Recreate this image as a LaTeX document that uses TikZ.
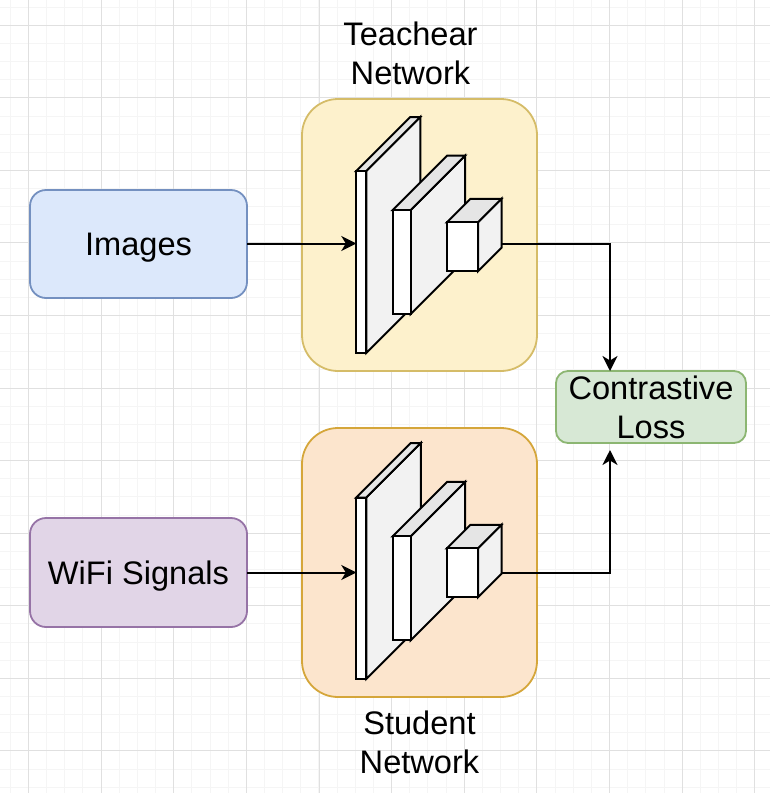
\documentclass[tikz,border=0pt]{standalone}
\usepackage{fontspec}
\setmainfont{Liberation Sans}
\usetikzlibrary{arrows.meta}
\definecolor{bluefill}{HTML}{DCE8FB}\definecolor{bluedraw}{HTML}{7490C0}
\definecolor{yelfill}{HTML}{FDF1CC}\definecolor{yeldraw}{HTML}{D5BC68}
\definecolor{orafill}{HTML}{FCE5CD}\definecolor{oradraw}{HTML}{D5A63A}
\definecolor{purfill}{HTML}{E1D5E7}\definecolor{purdraw}{HTML}{9673A6}
\definecolor{grnfill}{HTML}{D7E8D5}\definecolor{grndraw}{HTML}{8CB672}
\definecolor{gridmajor}{HTML}{E0E0E0}\definecolor{gridminor}{HTML}{F5F5F5}
\definecolor{facetop}{HTML}{E5E5E5}\definecolor{faceside}{HTML}{F2F2F2}
\tikzset{
  lbl/.style={font=\fontsize{32.6}{39}\selectfont,align=center,inner sep=0pt,outer sep=0pt,text=black},
  roundbox/.style={lbl,draw,line width=1.8pt,rounded corners=#1,outer sep=0pt},
  frontface/.style={draw=black,fill=white,line width=2pt,inner sep=0pt,outer sep=0pt},
  topface/.style={draw=black,fill=facetop,line width=2pt,line join=miter},
  sideface/.style={draw=black,fill=faceside,line width=2pt,line join=miter},
  conn/.style={draw=black,line width=2pt,-{Stealth[length=15pt,width=15pt,inset=4.5pt]}}
}
% #1 name, #2 left, #3 top, #4 width, #5 height, #6 depth
\newcommand{\cnnblock}[6]{%
  \path[sideface] (#2+#4,#3) -- ++(#6,-#6) -- ++(0,#5) -- ++(-#6,#6) -- cycle;
  \path[topface] (#2,#3) -- ++(#6,-#6) -- ++(#4,0) -- ++(-#6,#6) -- cycle;
  \node[frontface,minimum width=#4 pt,minimum height=#5 pt] (#1) at ({#2+#4/2},{#3+#5/2}) {};
}
\begin{document}
\begin{tikzpicture}[x=1pt,y=-1pt]
\useasboundingbox (0,0) rectangle (770,793);
\fill[white] (0,0) rectangle (770,793);
% grid
\foreach \k in {-1,...,42} {
  \draw[gridminor,line width=1pt] ({28.4+18.16*\k},0) -- ({28.4+18.16*\k},793);
  \draw[gridminor,line width=1pt] (0,{25.3+18.14*\k}) -- (770,{25.3+18.14*\k});
}
\foreach \k in {0,...,10} {
  \draw[gridmajor,line width=1pt] ({28.4+72.65*\k},0) -- ({28.4+72.65*\k},793);
  \draw[gridmajor,line width=1pt] (0,{25.3+72.55*\k}) -- (770,{25.3+72.55*\k});
}
% network panels
\node[roundbox=36pt,draw=yeldraw,fill=yelfill,minimum width=235pt,minimum height=272pt] (teacher) at (419.5,235) {};
\node[roundbox=36pt,draw=oradraw,fill=orafill,minimum width=235pt,minimum height=269pt] (student) at (419.5,562.5) {};
% inputs and loss
\node[roundbox=16pt,draw=bluedraw,fill=bluefill,minimum width=217pt,minimum height=108pt,text depth=0pt] (images) at (138.5,244) {Images};
\node[roundbox=16pt,draw=purdraw,fill=purfill,minimum width=217pt,minimum height=109pt,text depth=0pt] (wifi) at (138.5,572.5) {WiFi Signals};
\node[roundbox=12pt,draw=grndraw,fill=grnfill,minimum width=190pt,minimum height=72pt] (loss) at (651,407) {Contrastive\\Loss};
% cnn blocks, teacher
\cnnblock{ta}{356.3}{171}{10}{182}{54}
\cnnblock{tb}{392.7}{210}{18}{104}{54.5}
\cnnblock{tc}{447}{222.3}{31}{49}{23.5}
% cnn blocks, student
\cnnblock{sa}{356.3}{497.5}{10}{181.5}{54.5}
\cnnblock{sb}{392.7}{536.3}{18}{104}{54.5}
\cnnblock{sc}{447}{548.3}{31}{49}{23.5}
% labels
\node[lbl] (tlabel) at (410.5,53) {Teachear\\Network};
\node[lbl] (slabel) at (419.5,742) {Student\\Network};
% connectors
\coordinate (tout) at (501,243.5);
\coordinate (sout) at (501,572.5);
\coordinate (lossin) at (610,371);
\coordinate (lossbot) at (610,450);
\draw[conn] (images.east |- tout) -- (ta.west |- tout);
\draw[conn] (wifi.east |- sout) -- (sa.west |- sout);
\draw[conn] (tout) -| (lossin);
\draw[conn] (sout) -| (lossbot);
\end{tikzpicture}
\end{document}
